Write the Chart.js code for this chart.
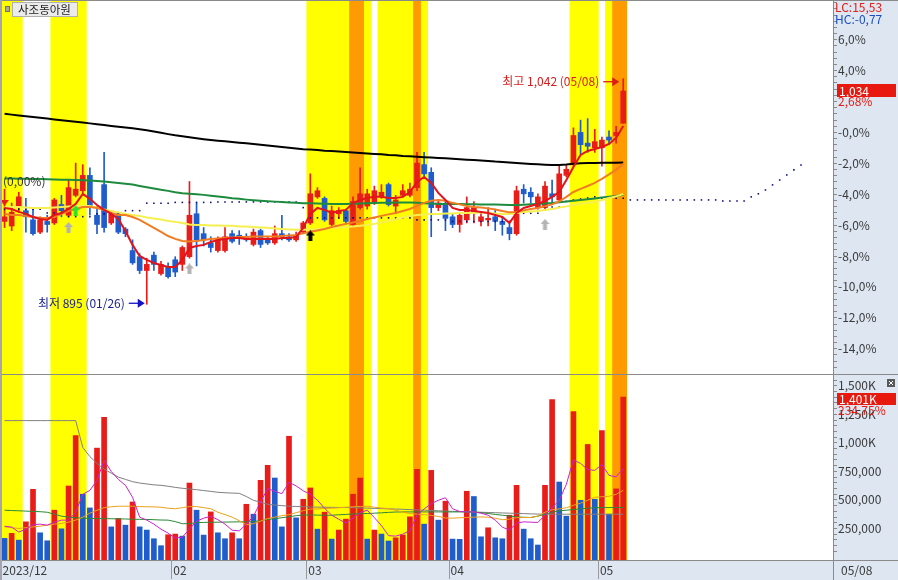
<!DOCTYPE html>
<html><head><meta charset="utf-8">
<script src="https://cdn.jsdelivr.net/npm/chart.js@4.4.1/dist/chart.umd.min.js"></script>
<style>html,body{margin:0;padding:0;background:#fff;overflow:hidden}#wrap{width:898px;height:580px}</style>
</head><body><div id="wrap"><canvas id="c" width="898" height="580"></canvas></div>
<script>
const stockName = '사조동아원';
const dates = ['2023-12-27','2023-12-28',
'2024-01-02','2024-01-03','2024-01-04','2024-01-05','2024-01-08','2024-01-09','2024-01-10','2024-01-11','2024-01-12','2024-01-15','2024-01-16','2024-01-17','2024-01-18','2024-01-19','2024-01-22','2024-01-23','2024-01-24','2024-01-25','2024-01-26','2024-01-29','2024-01-30','2024-01-31',
'2024-02-01','2024-02-02','2024-02-05','2024-02-06','2024-02-07','2024-02-08','2024-02-13','2024-02-14','2024-02-15','2024-02-16','2024-02-19','2024-02-20','2024-02-21','2024-02-22','2024-02-23','2024-02-26','2024-02-27','2024-02-28','2024-02-29',
'2024-03-04','2024-03-05','2024-03-06','2024-03-07','2024-03-08','2024-03-11','2024-03-12','2024-03-13','2024-03-14','2024-03-15','2024-03-18','2024-03-19','2024-03-20','2024-03-21','2024-03-22','2024-03-25','2024-03-26','2024-03-27','2024-03-28','2024-03-29',
'2024-04-01','2024-04-02','2024-04-03','2024-04-04','2024-04-05','2024-04-08','2024-04-09','2024-04-11','2024-04-12','2024-04-15','2024-04-16','2024-04-17','2024-04-18','2024-04-19','2024-04-22','2024-04-23','2024-04-24','2024-04-25','2024-04-26','2024-04-29','2024-04-30',
'2024-05-02','2024-05-03','2024-05-07','2024-05-08'];
const tickDates = ['2023-12-27','2024-02-01','2024-03-04','2024-04-01','2024-05-02'];
const tickTexts = ['2023/12','02','03','04','05'];
const futureSlots = 29;

const openP  = [949,946,958,956,950,942,949,948,960,953,966,969,979,953,973,948,954,944,930,926,917,927,915,919,924,921,926,954,941,935,930,930,941,940,939,934,943,937,935,941,939,937,942,948,965,964,947,954,956,947,958,959,961,965,973,959,966,966,971,986,981,958,960,952,947,950,955,949,950,952,949,945,941,970,968,958,958,967,963,979,986,1007,1000,997,997,1004,1005,1013];
const highP  = [970,961,968,964,958,952,953,964,966,976,987,986,984,959,994,956,955,945,937,928,925,929,923,922,926,933,975,961,945,939,939,945,943,943,941,944,944,939,946,953,941,942,949,980,971,965,959,958,957,965,984,970,972,973,974,966,973,974,994,994,984,963,962,954,955,965,962,955,958,957,952,948,972,973,971,967,975,976,985,986,1010,1015,1016,1009,1004,1008,1011,1042];
const lowP   = [945,943,955,942,940,941,942,947,952,952,965,967,953,941,942,947,941,939,921,915,895,917,914,912,913,917,925,920,933,929,929,929,935,934,936,933,932,934,934,937,936,936,941,947,964,949,946,951,948,946,957,957,960,964,959,954,965,965,969,978,939,956,943,945,942,948,948,946,946,943,940,937,940,961,961,957,956,961,962,978,985,993,994,994,985,999,1000,1013];
const closeP = [952,955,965,952,941,950,947,963,956,971,970,979,959,947,945,954,942,941,922,917,921,921,921,913,916,932,953,937,937,932,937,939,936,938,937,942,934,935,941,939,937,940,948,967,969,950,956,956,949,962,967,967,969,968,960,963,969,970,987,980,958,961,951,947,953,958,958,952,951,949,947,941,969,967,965,965,972,965,980,983,1005,999,998,1001,1002,1002,1007,1034];
const volume = [163000,207000,148000,308000,593000,212000,142000,410000,247000,622000,
1064000,550000,430000,954000,1224000,264000,338000,279000,482000,264000,
236000,160000,99000,195000,201000,183000,648000,410000,192000,395000,
212000,160000,212000,160000,462000,375000,672000,803000,692000,264000,
1058000,343000,506000,605000,244000,393000,157000,236000,332000,550000,
692000,157000,236000,201000,140000,168000,192000,352000,768000,288000,
759000,323000,489000,157000,155000,576000,530000,177000,256000,168000,
160000,366000,628000,244000,160000,105000,628000,1379000,657000,358000,
1274000,497000,986000,506000,1108000,375000,596800,1401000];

const ma5 = [957.8,957.1,955.2,953.9,951.9,950.6,950.0,953.2,954.5,957.1,
960.4,966.9,963.7,959.7,956.5,953.9,950.6,942.8,933.7,926.5,
923.9,921.9,920.6,919.3,919.3,923.9,931.7,933.0,933.7,935.6,
936.9,937.6,938.2,938.2,937.6,937.6,937.6,937.6,937.6,938.2,
938.2,938.9,944.8,953.9,957.8,956.5,954.5,955.8,956.5,961.0,
963.0,964.3,965.0,965.0,964.3,964.3,965.0,968.2,974.7,978.0,
974.1,967.6,963.0,957.8,956.5,956.5,955.8,955.2,954.5,953.2,
951.9,948.0,954.5,957.8,959.1,960.4,962.3,965.0,968.2,976.0,
984.5,992.3,994.9,996.2,997.5,999.5,1003.4,1011.2];
const ma20 = [953.9,953.2,953.2,952.6,951.9,951.3,951.3,951.9,953.9,955.8,
957.1,958.4,958.4,957.8,956.5,954.5,953.2,953.2,951.9,950.0,
947.4,944.8,942.2,939.5,937.6,936.3,935.9,936.3,936.9,937.6,
937.9,938.2,938.6,938.9,938.9,939.2,939.2,939.2,939.2,939.5,
939.9,940.2,941.2,942.2,943.1,944.1,945.4,946.4,947.4,948.3,
949.3,950.6,951.6,952.6,953.6,954.5,955.8,957.1,959.1,961.1,
962.4,963.0,962.4,961.1,960.1,959.1,958.4,958.1,957.5,956.8,
955.8,954.9,955.2,956.2,957.1,957.8,958.8,960.1,962.0,965.0,
968.2,970.2,972.1,974.1,976.7,979.6,982.6,986.5];
const ma40 = [958.4,958.4,958.4,958.1,957.8,957.8,957.8,958.1,958.4,958.8,
959.1,959.1,959.1,958.1,956.8,955.8,954.9,953.9,953.2,952.6,
951.6,950.9,950.3,949.3,948.7,948.0,947.0,946.7,946.7,946.4,
946.4,946.1,946.1,945.7,945.7,945.4,945.1,944.8,944.4,944.1,
943.8,943.5,943.5,943.8,944.1,944.4,944.8,945.1,945.4,945.7,
946.1,946.7,947.4,948.3,949.3,950.3,951.6,952.6,953.2,953.5,
953.9,953.9,954.2,954.2,954.5,954.5,954.5,954.9,954.5,954.2,
953.9,953.9,954.5,955.2,955.5,955.8,956.5,957.1,958.1,958.8,
959.7,960.4,961.1,961.7,963.0,964.3,965.3,966.9];
const ma60 = [977.0,976.9,976.8,976.8,976.7,976.6,976.5,976.4,976.2,976.1,
976.0,975.8,975.6,975.4,975.0,974.6,974.1,973.6,973.0,972.1,
971.3,970.5,969.6,968.9,968.0,967.4,967.0,966.7,966.3,965.7,
965.2,964.7,964.1,963.7,963.2,962.8,962.5,962.2,961.9,961.6,
961.4,961.1,960.9,960.8,960.6,960.5,960.4,960.4,960.4,960.5,
960.7,960.9,961.0,961.1,961.2,961.4,961.4,961.4,961.2,960.9,
960.6,960.4,960.4,960.3,960.3,960.2,960.2,960.1,960.1,960.0,
959.9,959.7,959.7,959.9,960.2,960.4,960.7,961.0,961.5,962.0,
962.5,963.0,963.5,964.0,964.6,965.1,965.6,966.3];
const ma120 = [1019.1,1018.6,1018.1,1017.6,1017.0,1016.5,1016.0,1015.5,1015.0,1014.4,
1013.9,1013.4,1012.9,1012.3,1011.8,1011.2,1010.7,1010.2,1009.7,1009.1,
1008.4,1007.6,1006.8,1005.9,1005.1,1004.5,1003.8,1003.2,1002.6,1002.1,
1001.6,1001.2,1000.8,1000.3,999.9,999.4,999.0,998.5,998.0,997.5,
997.0,996.6,996.1,995.8,995.5,995.1,994.9,994.5,994.2,993.9,
993.6,993.3,993.0,992.7,992.3,992.1,991.7,991.5,991.2,990.9,
990.6,990.4,990.1,989.8,989.5,989.2,989.0,988.7,988.4,988.0,
987.8,987.4,987.1,986.8,986.5,986.2,986.0,985.8,985.8,986.1,
986.6,986.9,987.0,987.1,987.2,987.3,987.3,987.4];
const leadSpan = [957.0,957.0,957.0,957.0,957.0,957.0,954.5,954.5,954.5,952.1,
952.1,952.1,952.1,953.9,953.9,953.9,953.9,956.0,956.0,956.0,
960.9,960.9,960.9,960.9,961.4,961.4,961.4,961.4,961.4,961.4,
961.7,961.7,961.7,961.7,961.7,961.7,961.7,961.7,961.7,961.7,
961.7,961.7,958.0,951.3,951.3,951.3,951.3,951.3,951.3,951.3,
951.3,951.3,951.3,951.3,951.3,951.3,951.3,951.3,950.0,950.0,
950.0,950.0,950.0,949.0,949.0,949.0,949.0,949.0,949.0,949.0,
949.0,949.0,954.3,954.3,954.3,954.3,958.4,958.4,958.4,962.0,
963.0,963.6,964.3,965.0,964.1,964.1,964.1,964.1,963.0,963.0,
963.0,963.0,963.0,963.0,963.0,963.0,963.0,963.0,963.0,963.0,
963.0,962.3,962.3,962.3,962.3,965.0,967.0,969.5,972.8,976.0,
979.3,982.6,985.8];

const volMa5 = [270,262,218,244,283,288,279,305,323,323,
392,549,584,672,846,750,680,628,523,349,
323,288,244,209,166,174,244,314,340,357,
327,288,235,229,288,357,482,599,576,555,
654,623,580,549,497,427,366,331,297,340,
388,410,345,275,187,183,200,231,366,421,
468,497,519,423,399,395,395,384,366,323,
262,235,297,308,305,303,366,432,497,637,
852,820,767,759,811,715,702,776];
const volMa20 = [264,257,250,257,264,270,279,288,294,305,
323,349,384,410,432,440,445,445,445,442,
440,439,436,427,423,432,442,442,432,423,
392,371,349,318,283,292,314,337,349,362,
371,388,406,419,421,425,427,432,436,440,
443,445,436,429,423,410,392,381,375,371,
365,355,342,340,344,346,349,351,349,340,
327,331,345,346,346,358,392,414,421,432,
453,471,497,523,528,532,549,584];
const volMa60 = [410,407,405,402,399,397,392,375,358,349,
344,340,338,337,336,335,334,333,331,330,
329,327,324,323,310,292,292,301,303,304,
305,306,307,308,308,310,318,329,336,344,
353,362,368,368,367,366,366,370,373,377,
379,381,384,387,391,394,395,395,395,395,
395,395,395,395,395,395,394,388,381,373,
366,359,352,348,346,358,375,392,404,410,
416,422,427,431,433,433,433,433];
const volMa120 = [1195,1195,1195,1195,1195,1195,1195,1195,1195,1195,
1195,960,880,820,770,735,700,680,660,648,
640,632,628,620,610,602,596,590,582,575,
567,563,560,558,530,497,480,462,455,450,
445,443,440,438,437,436,435,434,433,432,
430,428,426,424,422,420,418,415,412,410,
408,405,402,400,398,396,394,392,390,388,
386,384,382,380,378,376,375,375,375,375,
375,375,375,375,375,375,375,375];

const yellowDays = [0,1,2,7,8,9,10,11,43,44,45,46,47,48,51,53,54,55,56,57,59,80,81,82,83,85];
const orangeDays = [49,50,58,86,87];
const grayArrowDays = [9,26,76];   const grayArrowPrice = [945,918,947];
const blackArrowDays = [43];       const blackArrowPrice = [939.5];
const greenArrowDays = [10];       const greenArrowPrice = [956];
const redDownDays = [0];           const redDownPrice = [959.5];
const prevClose = 1007;
const priceMin = 849.55, priceMax = 1092.66;
const volMin = -26300, volMax = 1603400;

const C = {up:'#e81d1a', down:'#1f5ccc', band:'#ffff00', band2:'#ff9a00',
  ma5:'#e3131b', ma20:'#f27c21', ma40:'#f5f050', ma60:'#1d8b3e', ma120:'#000000', lead:'#0b0b86',
  v5:'#cc22cc', v20:'#eaa21c', v60:'#2b8a36', v120:'#808080',
  axisBg:'#dde6f1', axisLine:'#8a8a8a', text:'#3a3a3a'};
const FF = '"Noto Sans CJK KR","Noto Sans",sans-serif';
Chart.defaults.font.family = FF; Chart.defaults.font.size = 12; Chart.defaults.color = C.text;
const dec = (v, d) => v.toFixed(d).replace('.', ',');

const N = dates.length;
const labels = dates.concat(Array(futureSlots).fill(''));
const candleCol = openP.map((o,i)=> closeP[i] >= o ? C.up : C.down);
const volCol = volume.map((v,i)=> (i>0 && v>volume[i-1]) ? C.up : C.down);
const sparse = (days, vals) => labels.map((_,i)=>{const k=days.indexOf(i); return k>=0 ? (vals? vals[k] : 1) : null;});

function arrowImg(color, up){
  const c=document.createElement('canvas'); c.width=9; c.height=11; const g=c.getContext('2d');
  g.fillStyle=color; g.beginPath();
  if(up){g.moveTo(4.5,0);g.lineTo(9,5);g.lineTo(6.5,5);g.lineTo(6.5,11);g.lineTo(2.5,11);g.lineTo(2.5,5);g.lineTo(0,5);}
  else {g.moveTo(0,0);g.lineTo(9,0);g.lineTo(4.5,6);}
  g.closePath(); g.fill(); return c;
}
const line = (data, color, order, w, yAxisID) => ({type:'line', data, borderColor:color, borderWidth:w, pointRadius:0, tension:0, yAxisID, order});
const marker = (days, prices, img, order) => ({type:'line', data:sparse(days, prices), showLine:false, pointStyle:img, pointRadius:5, yAxisID:'yP', order});
const barBase = {type:'bar', grouped:false, borderWidth:0};
const noPad = s => { s.paddingTop = 0; s.paddingBottom = 0; s.paddingLeft = 0; s.paddingRight = 0; };

const pctTicks = []; for(let k=-38;k<=21;k++){ pctTicks.push(k*0.4); }

const decor = {
  id:'decor',
  beforeDraw(chart){
    const {ctx, chartArea:a, width:W, height:H} = chart;
    ctx.save(); ctx.fillStyle='#fff'; ctx.fillRect(0,0,W,H);
    ctx.fillStyle=C.axisBg; ctx.fillRect(a.right,0,W-a.right,H); ctx.fillRect(0,a.bottom,W,H-a.bottom);
    ctx.restore();
  },
  afterDatasetsDraw(chart){
    const {ctx, scales:{x, yP}} = chart;
    ctx.save(); ctx.font = '12px '+FF; ctx.textBaseline='middle';
    let li = 0; lowP.forEach((v,i)=>{ if(v<lowP[li]) li=i; });
    let hi = 0; highP.forEach((v,i)=>{ if(v>=highP[hi]) hi=i; });
    const md = d => d.slice(5,7)+'/'+d.slice(8,10);
    const fmt = v => v.toLocaleString('en-US');
    const drawArrow = (tipX, y, col) => {
      ctx.strokeStyle=col; ctx.fillStyle=col; ctx.lineWidth=1.3;
      ctx.beginPath(); ctx.moveTo(tipX-16,y); ctx.lineTo(tipX-5,y); ctx.stroke();
      ctx.beginPath(); ctx.moveTo(tipX,y); ctx.lineTo(tipX-7,y-4.5); ctx.lineTo(tipX-7,y+4.5); ctx.closePath(); ctx.fill();
    };
    let px = x.getPixelForValue(li), py = yP.getPixelForValue(lowP[li]) - 1;
    drawArrow(px-2, py, '#1212c8');
    ctx.fillStyle='#1c2394'; ctx.textAlign='right';
    ctx.fillText('최저 '+fmt(lowP[li])+' ('+md(dates[li])+')', px-22, py);
    px = x.getPixelForValue(hi); py = yP.getPixelForValue(highP[hi]) + 3;
    drawArrow(px-4, py, '#e01a1a');
    ctx.fillStyle='#d81c1c'; ctx.textAlign='right';
    ctx.fillText('최고 '+fmt(highP[hi])+' ('+md(dates[hi])+')', px-24, py);
    ctx.fillStyle='#333'; ctx.textAlign='left';
    ctx.fillText('('+dec(0,2)+'%)', chart.chartArea.left+2, yP.getPixelForValue(ma60[0])+3);
    ctx.restore();
  },
  afterDraw(chart){
    const {ctx, chartArea:a, width:W, height:H, scales:{yP, yV}} = chart;
    ctx.save();
    ctx.strokeStyle=C.axisLine; ctx.lineWidth=1;
    const hl = y => {ctx.beginPath(); ctx.moveTo(0,y); ctx.lineTo(W,y); ctx.stroke();};
    hl(0.5); hl(Math.round(yP.bottom)+0.5); hl(Math.round(a.bottom)+0.5);
    ctx.beginPath(); ctx.moveTo(Math.round(a.right)+0.5,0); ctx.lineTo(Math.round(a.right)+0.5,H); ctx.stroke();
    ctx.fillStyle='#a4a4b2'; ctx.fillRect(0,0,2,H);
    ctx.fillStyle='#ebebeb'; ctx.fillRect(12.5,2.5,65,14); ctx.strokeStyle='#b0b0b0'; ctx.strokeRect(12.5,2.5,65,14);
    ctx.fillStyle='#a8a8a8'; ctx.fillRect(5,6,5,6); ctx.strokeStyle='#707070'; ctx.strokeRect(5.5,6.5,4,5);
    ctx.font='11.5px '+FF; ctx.fillStyle='#222'; ctx.textBaseline='middle'; ctx.textAlign='left';
    ctx.fillText(stockName, 18, 10);
    const last = closeP[N-1];
    const minLow = Math.min(...lowP), maxHigh = Math.max(...highP);
    ctx.font='12px '+FF;
    ctx.fillStyle='#e0201a'; ctx.fillText('LC:'+dec((last/minLow-1)*100,2), a.right+2, 7.5);
    ctx.fillStyle='#1d4fc2'; ctx.fillText('HC:'+dec((last/maxHigh-1)*100,2), a.right+2, 19);
    let y = yP.getPixelForValue(last);
    ctx.fillStyle='#e8190f'; ctx.fillRect(a.right+4, Math.round(y)-7, 59, 13);
    ctx.fillStyle='#fff'; ctx.fillText(last.toLocaleString('en-US'), a.right+6, Math.round(y));
    ctx.fillStyle='#e8190f'; ctx.fillText(dec((last/prevClose-1)*100,2)+'%', a.right+5, y+10.5);
    const lv = volume[N-1];
    y = yV.getPixelForValue(lv) + 1.5;
    ctx.fillStyle='#e8190f'; ctx.fillRect(a.right+4, Math.round(y)-6, 59, 12);
    ctx.fillStyle='#fff'; ctx.fillText(Math.round(lv/1000).toLocaleString('en-US')+'K', a.right+6, Math.round(y));
    ctx.fillStyle='#e8190f'; ctx.fillText(dec(lv/volume[N-2]*100,2)+'%', a.right+5, y+12);
    ctx.fillStyle=C.text; ctx.fillText(dates[N-1].slice(5,7)+'/'+dates[N-1].slice(8,10), a.right+8, 570);
    ctx.fillStyle='#5a5a5a'; ctx.fillRect(887,379,8,8);
    ctx.strokeStyle='#fff'; ctx.lineWidth=1; ctx.beginPath(); ctx.moveTo(889,381); ctx.lineTo(893,385); ctx.moveTo(893,381); ctx.lineTo(889,385); ctx.stroke();
    ctx.restore();
  }
};

new Chart(document.getElementById('c'), {
  data: {
    labels,
    datasets: [
      {...barBase, data: sparse(yellowDays), backgroundColor:C.band, yAxisID:'yB', barPercentage:1, categoryPercentage:1, order:100},
      {...barBase, data: sparse(orangeDays), backgroundColor:C.band2, yAxisID:'yB', barPercentage:1, categoryPercentage:1, order:99},
      {...barBase, data: volume, backgroundColor: volCol, yAxisID:'yV', barThickness:5, base: volMin, order:60},
      line(volMa120.map(v=>v*1000), C.v120, 58, 1, 'yV'),
      line(volMa60.map(v=>v*1000), C.v60, 57, 1, 'yV'),
      line(volMa20.map(v=>v*1000), C.v20, 56, 1, 'yV'),
      line(volMa5.map(v=>v*1000), C.v5, 55, 1, 'yV'),
      {...barBase, data: lowP.map((l,i)=>[l, highP[i]]), backgroundColor: candleCol, yAxisID:'yP', barThickness:1, order:50},
      {...barBase, data: openP.map((o,i)=>[o, closeP[i]]), backgroundColor: candleCol, yAxisID:'yP', barThickness:5, minBarLength:1, order:49},
      {type:'line', data: leadSpan, showLine:false, pointStyle:'rect', pointRadius:1.1, pointBorderWidth:0, pointBackgroundColor:C.lead, yAxisID:'yP', order:30},
      line(ma120, C.ma120, 25, 2, 'yP'),
      line(ma60, C.ma60, 24, 2, 'yP'),
      line(ma40, C.ma40, 23, 2, 'yP'),
      line(ma20, C.ma20, 22, 2, 'yP'),
      line(ma5, C.ma5, 21, 2, 'yP'),
      marker(grayArrowDays, grayArrowPrice, arrowImg('#b4b4b4', true), 5),
      marker(blackArrowDays, blackArrowPrice, arrowImg('#000', true), 4),
      marker(greenArrowDays, greenArrowPrice, arrowImg('#2ee02e', true), 3),
      marker(redDownDays, redDownPrice, arrowImg('#e81d1a', false), 2)
    ]
  },
  options: {
    responsive:false, animation:false, devicePixelRatio:1,
    layout:{autoPadding:false, padding:{left:1, top:1, right:0, bottom:0}},
    plugins:{legend:{display:false}, tooltip:{enabled:false}},
    scales:{
      x:{type:'category', offset:true,
        grid:{offset:true, drawOnChartArea:false, drawTicks:true, tickLength:19,
          color: c => (c.index < labels.length && tickDates.includes(labels[c.index])) ? '#9a9a9a' : 'rgba(0,0,0,0)'},
        border:{display:false},
        ticks:{autoSkip:false, maxRotation:0, minRotation:0, align:'start', labelOffset:-2, padding:-16,
          callback:(v,i)=>{const k=tickDates.indexOf(labels[i]); return k>=0 ? tickTexts[k] : '';}},
        afterFit: s => { s.height = 20; noPad(s); }},
      yP:{type:'linear', position:'right', stack:'main', stackWeight:373, min:priceMin, max:priceMax,
        grid:{drawOnChartArea:false, tickLength:4, color:C.axisLine}, border:{display:false},
        afterBuildTicks: s => { s.ticks = pctTicks.map(p => ({value: prevClose*(1+p/100), pct:p})).filter(t => t.value>=priceMin && t.value<=priceMax); },
        ticks:{autoSkip:false, padding:1, callback:(v,i,t)=>{ const p=Math.round(t[i].pct*10)/10; if(Math.abs(p%2)>1e-6 || p===2 || p>6) return ''; return (p===0?'-'+dec(0,1):dec(p,1))+'%'; }},
        afterFit: s => { s.width = 65; noPad(s); }},
      yV:{type:'linear', position:'right', stack:'main', stackWeight:186, min:volMin, max:volMax,
        grid:{drawOnChartArea:false, tickLength:4, color:C.axisLine}, border:{display:false},
        afterBuildTicks: s => { const t=[]; for(let v=50000; v<=volMax; v+=50000) t.push({value:v}); s.ticks=t; },
        ticks:{autoSkip:false, padding:1, callback:(v)=>{ if(v%250000!==0) return ''; return v>=1000000 ? (v/1000).toLocaleString('en-US')+'K' : v.toLocaleString('en-US'); }},
        afterFit: s => { s.width = 65; noPad(s); }},
      yB:{display:false, position:'left', min:0, max:1, afterFit: noPad}
    }
  },
  plugins:[decor]
});
</script></body></html>
